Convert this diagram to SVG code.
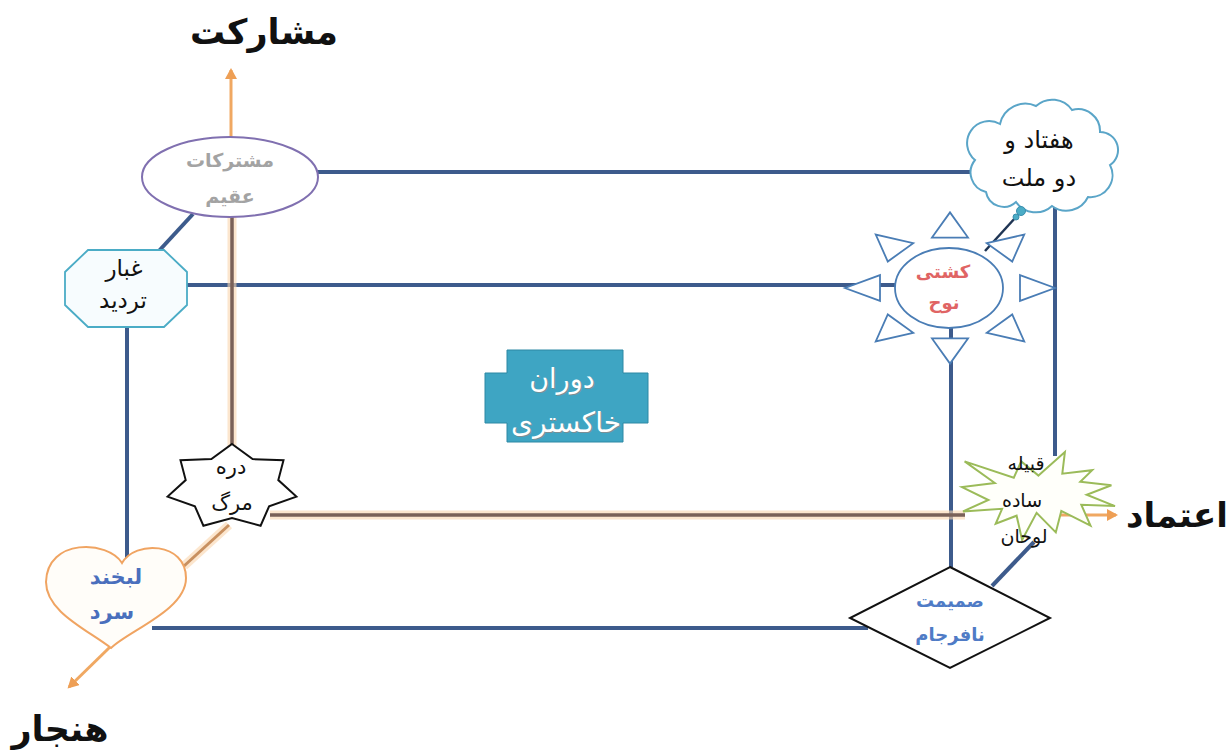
<svg xmlns="http://www.w3.org/2000/svg" width="1232" height="754" viewBox="0 0 1232 754">
<defs>
<marker id="arr" markerUnits="userSpaceOnUse" markerWidth="14" markerHeight="14" refX="9" refY="6" orient="auto">
<path d="M0,0 L11,6 L0,12 z" fill="#ee9f55"/>
</marker>
<style>
.t{font-family:"DejaVu Sans",sans-serif;text-anchor:middle;dominant-baseline:central}
.title{font-family:"DejaVu Sans",sans-serif;font-weight:bold;fill:#111;text-anchor:middle;dominant-baseline:central}
.bl{fill:none;stroke:#3d5b8c;stroke-width:4;stroke-linecap:butt}
.glow{fill:none;stroke:#fad6ae;stroke-width:9;opacity:0.6}
.core{fill:none;stroke:#7a6158;stroke-width:3.5}
.or{fill:none;stroke:#f0a862;stroke-width:3}
.sunp{fill:#fff;stroke:#4a7db5;stroke-width:1.8}
</style>
</defs>
<rect width="1232" height="754" fill="#ffffff"/>

<g id="connectors">
<path class="bl" d="M317,172 H976"/>
<path class="bl" d="M187,285 H896"/>
<path class="bl" d="M193,214 L157,253"/>
<path class="bl" d="M127,327 V561"/>
<path class="bl" d="M152,628 H868"/>
<path class="bl" d="M951,327 V567"/>
<path class="bl" d="M1055,200 V456"/>
<path class="bl" d="M992,586 L1034,542"/>
<path d="M1016,217 L985,251" fill="none" stroke="#1f3554" stroke-width="2.5"/>
<path class="glow" d="M232,217 V446"/>
<path class="core" d="M232,217 V446"/>
<path class="glow" d="M270,515 H965"/>
<path class="core" d="M270,515 H965"/>
<path class="glow" d="M229,525 L184,566"/>
<path d="M229,525 L184,566" fill="none" stroke="#c89060" stroke-width="3"/>
<path class="or" d="M231,137 V70" marker-end="url(#arr)"/>
<path class="or" d="M1060,515 H1116" marker-end="url(#arr)"/>
<path class="or" d="M110,647 L69,687" marker-end="url(#arr)"/>
</g>

<g id="n-mosharekat-title">
<text class="title" x="264" y="32" font-size="35">مشارکت</text>
</g>
<g id="n-etemad-title">
<text class="title" x="1177" y="515" font-size="34">اعتماد</text>
</g>
<g id="n-hanjar-title">
<text class="title" x="60" y="729" font-size="35">هنجار</text>
</g>

<g id="n-moshtarekat">
<ellipse cx="230" cy="177" rx="88" ry="40" fill="#fff" stroke="#8070b0" stroke-width="2"/>
<text class="t" x="230" y="160" font-size="19" font-weight="bold" fill="#a3a3a3">مشترکات</text>
<text class="t" x="230" y="196" font-size="19" font-weight="bold" fill="#a3a3a3">عقیم</text>
</g>

<g id="n-ghobar">
<polygon points="88,250 164,250 187,272 187,305 164,327 88,327 65,305 65,272" fill="#f7fcfe" stroke="#4bacc6" stroke-width="1.8"/>
<text class="t" x="124" y="268" font-size="23" fill="#111">غبار</text>
<text class="t" x="123" y="300" font-size="23" fill="#111">تردید</text>
</g>

<g id="n-cloud">
<path d="M986,192 A20,20 0 0 1 975,160 A22,22 0 0 1 1000,124 A26,26 0 0 1 1036,106 A24,24 0 0 1 1072,110 A22,22 0 0 1 1100,132 A18,18 0 0 1 1110,165 A22,22 0 0 1 1088,197 A24,24 0 0 1 1052,206 A24,24 0 0 1 1016,202 A18,18 0 0 1 986,192 Z" fill="#fff" stroke="#5aa5c8" stroke-width="2"/>
<circle cx="1021" cy="211" r="4.5" fill="#4bacc6" stroke="#3a8fae" stroke-width="1"/>
<circle cx="1016" cy="217" r="3" fill="#4bacc6" stroke="#3a8fae" stroke-width="1"/>
<text class="t" x="1039" y="140" font-size="24" fill="#111">هفتاد و</text>
<text class="t" x="1039" y="178" font-size="24" fill="#111">دو ملت</text>
</g>

<g id="n-keshti">
<g transform="translate(950,288) scale(1,0.72)">
<polygon class="sunp" vector-effect="non-scaling-stroke" points="70,-18 105,0 70,18"/>
<polygon class="sunp" vector-effect="non-scaling-stroke" points="70,-18 105,0 70,18" transform="rotate(45)"/>
<polygon class="sunp" vector-effect="non-scaling-stroke" points="70,-18 105,0 70,18" transform="rotate(90)"/>
<polygon class="sunp" vector-effect="non-scaling-stroke" points="70,-18 105,0 70,18" transform="rotate(135)"/>
<polygon class="sunp" vector-effect="non-scaling-stroke" points="70,-18 105,0 70,18" transform="rotate(180)"/>
<polygon class="sunp" vector-effect="non-scaling-stroke" points="70,-18 105,0 70,18" transform="rotate(225)"/>
<polygon class="sunp" vector-effect="non-scaling-stroke" points="70,-18 105,0 70,18" transform="rotate(270)"/>
<polygon class="sunp" vector-effect="non-scaling-stroke" points="70,-18 105,0 70,18" transform="rotate(315)"/>
</g>
<ellipse cx="949" cy="288" rx="54" ry="40" fill="#fff" stroke="#4a7db5" stroke-width="1.8"/>
<text class="t" x="943" y="271" font-size="18" font-weight="bold" fill="#e06464">کشتی</text>
<text class="t" x="944" y="302" font-size="18" font-weight="bold" fill="#e06464">نوح</text>
</g>

<g id="n-dowran">
<polygon points="507,350 623,350 623,373 648,373 648,423 623,423 623,442 507,442 507,423 485,423 485,373 507,373" fill="#3ea5c3" stroke="#2d88a4" stroke-width="1"/>
<text class="t" x="563" y="379" font-size="27" fill="#7a8f96">دوران</text>
<text class="t" x="562" y="378" font-size="27" fill="#ffffff">دوران</text>
<text class="t" x="567" y="423" font-size="28" fill="#7a8f96">خاکستری</text>
<text class="t" x="566" y="422" font-size="28" fill="#ffffff">خاکستری</text>
</g>

<g id="n-darre">
<polygon points="232,444 252.6,459.1 283.5,460.2 278.3,480.1 296.4,496.6 269.1,506.3 260.6,525.7 232,518 203.4,525.7 194.9,506.3 167.6,496.6 185.7,480.1 180.5,460.2 211.4,459.1" fill="#fff" stroke="#111" stroke-width="2"/>
<text class="t" x="231" y="467" font-size="21" fill="#111">دره</text>
<text class="t" x="232" y="503" font-size="21" fill="#111">مرگ</text>
</g>

<g id="n-labkhand">
<path d="M122,563 C108,540 47,538 46,582 C46,612 88,630 111,648 C130,630 186,610 186,578 C186,542 135,540 122,563 Z" fill="#fffdf9" stroke="#f0a462" stroke-width="2"/>
<text class="t" x="116" y="577" font-size="21" font-weight="bold" fill="#4a6fbd">لبخند</text>
<text class="t" x="112" y="612" font-size="21" font-weight="bold" fill="#4a6fbd">سرد</text>
</g>

<g id="n-ghabile">
<polygon points="1038.5,475.6 1064.9,452 1062.3,473.7 1092.2,470.2 1080.3,481.8 1111.4,485.2 1086.7,494.7 1115,506.1 1081.3,504.7 1090.5,525.7 1061.3,510.9 1055.8,532.4 1036.6,512.8 1022.1,540 1016.6,515.7 995.7,523.8 1002.1,508.8 963,511.4 988.4,500 962,487.1 994.8,483 964.6,461.4 1013.8,477.7 1021.2,461.4" fill="#fffffa" stroke="#9bbb59" stroke-width="2"/>
<text class="t" x="1026" y="463" font-size="19" fill="#111">قبیله</text>
<text class="t" x="1022" y="500" font-size="19" fill="#111">ساده</text>
<text class="t" x="1024" y="536" font-size="19" fill="#111">لوحان</text>
</g>

<g id="n-samimat">
<polygon points="950,567 1050,618 950,668 850,618" fill="#fff" stroke="#111" stroke-width="2"/>
<text class="t" x="950" y="600" font-size="18" font-weight="bold" fill="#4f7bc6">صمیمت</text>
<text class="t" x="950" y="634" font-size="18" font-weight="bold" fill="#4f7bc6">نافرجام</text>
</g>
</svg>
